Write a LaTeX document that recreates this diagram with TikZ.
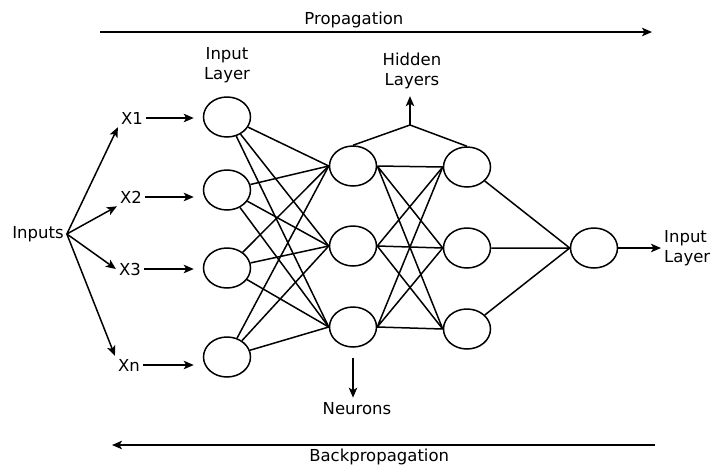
\documentclass[tikz,border=0pt]{standalone}
\usepackage{fontspec}
\setmainfont{DejaVu Sans}
\usepackage{tikz}
\usetikzlibrary{shapes.geometric, arrows.meta, positioning, calc}
\tikzstyle{neuron} = [ellipse, draw=black, line width=1.5pt, minimum width=47pt, minimum height=40pt, inner sep=0pt]
\tikzstyle{arrow} = [line width=1.5pt,->]

\begin{document}
\begin{tikzpicture}[
    x=1pt, y=-1pt,
    font=\fontsize{16.5}{20}\selectfont,
    >={Stealth[length=10pt,width=8.5pt,inset=2.5pt]},
    link/.style={line width=1.5pt},
    lbl/.style={inner sep=3pt}
]
\useasboundingbox (0,0) rectangle (712,469);

% Propagation directions
\coordinate (pa) at (100,32);
\coordinate (pb) at (652,32);
\draw[arrow] (pa) -- node[pos=0.46, above, lbl] {Propagation} (pb);
\coordinate (ba) at (655,445);
\coordinate (bb) at (112,445);
\draw[arrow] (ba) -- node[pos=0.508, below, lbl] {Backpropagation} (bb);

% Inputs
\node[lbl] (inputs) at (38,234) {Inputs};
\node[lbl] (x1) at (132,118) {X1};
\node[lbl] (x2) at (131,197) {X2};
\node[lbl] (x3) at (130,269) {X3};
\node[lbl] (xn) at (129,365) {Xn};

\draw[arrow] (inputs.east) -- (x1.south west);
\draw[arrow] (inputs.east) -- (x2.south west);
\draw[arrow] (inputs.east) -- (x3.west);
\draw[arrow] (inputs.east) -- (xn.north west);

% Input layer
\node[neuron] (in1) at (227,117) {};
\node[neuron] (in2) at (227,190) {};
\node[neuron] (in3) at (227,268) {};
\node[neuron] (in4) at (227,357) {};
\node[lbl, align=center] (inlbl) at (227,65) {Input\\Layer};

\draw[arrow, shorten >=9pt] (x1.east) -- (x1.east -| in1.west);
\draw[arrow, shorten >=9pt] (x2.east) -- (x2.east -| in2.west);
\draw[arrow, shorten >=9pt] (x3.east) -- (x3.east -| in3.west);
\draw[arrow, shorten >=9pt] (xn.east) -- (xn.east -| in4.west);

% Hidden layers
\node[neuron] (ha1) at (353,166) {};
\node[neuron] (ha2) at (353,246) {};
\node[neuron] (ha3) at (353,327) {};
\node[neuron] (hb1) at (467,167) {};
\node[neuron] (hb2) at (467,248) {};
\node[neuron] (hb3) at (467,329) {};

% Output
\node[neuron] (out) at (594,248) {};
\node[lbl, align=left, anchor=west] (outlbl) at (661,248) {Input\\Layer};
\draw[arrow] (out) -- (outlbl);

% Input -> hidden 1
\draw[link] (in1) -- (ha1.west) (in1) -- (ha2.west) (in1) -- (ha3.west);
\draw[link] (in2) -- (ha1.west) (in2) -- (ha2.west) (in2) -- (ha3.west);
\draw[link] (in3) -- (ha1.west) (in3) -- (ha2.west) (in3) -- (ha3.west);
\draw[link] (in4) -- (ha1.west) (in4) -- (ha2.west) (in4) -- (ha3.west);

% Hidden 1 -> hidden 2
\draw[link] (ha1.east) -- (hb1.west) (ha1.east) -- (hb2.west) (ha1.east) -- (hb3.west);
\draw[link] (ha2.east) -- (hb1.west) (ha2.east) -- (hb2.west) (ha2.east) -- (hb3.west);
\draw[link] (ha3.east) -- (hb1.west) (ha3.east) -- (hb2.west) (ha3.east) -- (hb3.west);

% Hidden 2 -> output
\draw[link] (hb1) -- (out.west) (hb2) -- (out.west) (hb3) -- (out.west);

% Hidden layer label
\coordinate (hj) at (410,125);
\node[lbl, align=center] (hidlbl) at (412,71) {Hidden\\Layers};
\draw[link] (ha1.north) -- (hj) -- (hb1.north);
\draw[arrow, shorten >=4pt] (hj) -- (hj |- hidlbl.south);

% Neurons
\node[lbl] (neu) at (357,409) {Neurons};
\draw[arrow, shorten <=10pt, shorten >=2pt] (ha3.south) -- (ha3.south |- neu.north);

\end{tikzpicture}
\end{document}
